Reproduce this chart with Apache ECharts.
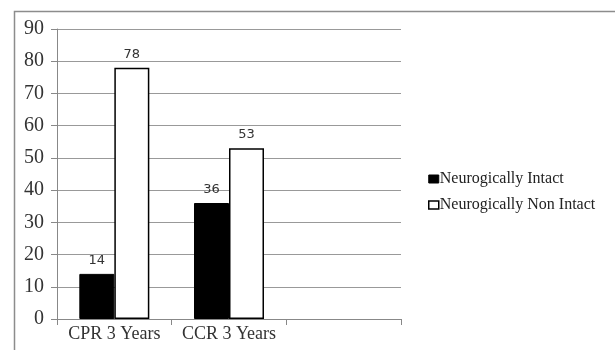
<!DOCTYPE html>
<html><head><meta charset="utf-8">
<script src="https://cdn.jsdelivr.net/npm/echarts@6/dist/echarts.min.js"></script>
<style>html,body{margin:0;padding:0;background:#fff}#c{width:615px;height:350px}</style>
</head><body><div id="c"></div>
<script>
const categories = ["CPR 3 Years", "CCR 3 Years", ""];
const intact = [14, 36, null];
const nonIntact = [78, 53, null];
const seriesNames = ["Neurogically Intact", "Neurogically Non Intact"];
const yTicks = {min: 0, max: 90, interval: 10};

const chart = echarts.init(document.getElementById('c'), null, {renderer: 'canvas'});
const serif = '"Liberation Serif", "Times New Roman", serif';
chart.setOption({
  animation: false,
  backgroundColor: '#fff',
  graphic: [{type: 'rect', shape: {x: 14.5, y: 11.5, width: 700, height: 400}, style: {fill: 'none', stroke: '#8c8c8c', lineWidth: 1.5}, z: 0}],
  grid: {left: 57, top: 29, right: 214, bottom: 31, containLabel: false},
  legend: {
    orient: 'vertical', left: 423, top: 166, itemWidth: 10, itemHeight: 8, itemGap: 10,
    textStyle: {fontFamily: serif, fontSize: 16, color: '#222', padding: [0, 0, 0, -4]},
    data: [
      {name: seriesNames[0], icon: 'rect', itemStyle: {color: '#000', borderColor: '#000', borderWidth: 1}},
      {name: seriesNames[1], icon: 'rect', itemStyle: {color: '#fff', borderColor: '#000', borderWidth: 1.5}}
    ]
  },
  xAxis: {
    type: 'category', data: categories,
    axisLine: {lineStyle: {color: '#888', width: 1}},
    axisTick: {show: true, alignWithLabel: false, length: 6, lineStyle: {color: '#888'}},
    axisLabel: {fontFamily: serif, fontSize: 18, color: '#333', margin: 6, interval: 0}
  },
  yAxis: {
    type: 'value', min: yTicks.min, max: yTicks.max, interval: yTicks.interval,
    axisLine: {show: true, lineStyle: {color: '#888'}},
    axisTick: {show: true, length: 6, lineStyle: {color: '#888'}},
    splitLine: {lineStyle: {color: '#999', width: 1}},
    axisLabel: {fontFamily: serif, fontSize: 20, color: '#333', margin: 13, padding: [8, 0, 0, 0]}
  },
  series: [
    {name: seriesNames[0], type: 'bar', data: intact, barWidth: 35, barGap: '0%',
     itemStyle: {color: '#000', borderColor: '#000', borderWidth: 1},
     label: {show: true, position: 'top', distance: 7, fontFamily: '"DejaVu Sans", sans-serif', fontSize: 13, color: '#333'}},
    {name: seriesNames[1], type: 'bar', data: nonIntact, barWidth: 35, barGap: '0%',
     itemStyle: {color: '#fff', borderColor: '#000', borderWidth: 1.5},
     label: {show: true, position: 'top', distance: 7, fontFamily: '"DejaVu Sans", sans-serif', fontSize: 13, color: '#333'}}
  ]
});
</script></body></html>
